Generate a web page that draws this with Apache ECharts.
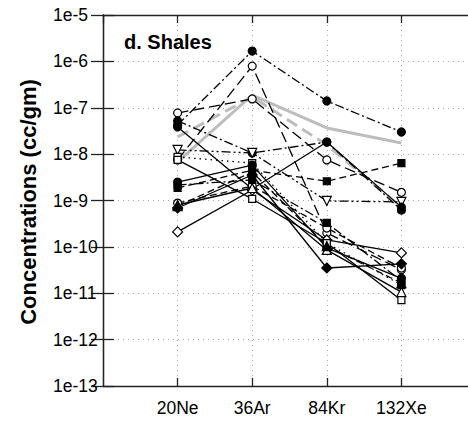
<!DOCTYPE html>
<html><head><meta charset="utf-8">
<script src="https://cdn.jsdelivr.net/npm/echarts@6/dist/echarts.min.js"></script>
<style>html,body{margin:0;padding:0;background:#fff}#c{width:468px;height:422px}</style>
</head><body><div id="c"></div><script>
// ---- data ----
const categories = ['20Ne', '36Ar', '84Kr', '132Xe'];
const yTickLabels = ['1e-13','1e-12','1e-11','1e-10','1e-9','1e-8','1e-7','1e-6','1e-5'];

const grayA = [6.8e-9, 1.88e-7, 3.66e-8, 1.74e-8];
const grayB = [2.34e-8, 1.71e-7, 1.57e-8, 7.2e-10];
const s1  = [4.25e-8, 1.67e-6, 1.40e-7, 3.0e-8];
const s2  = [7.5e-9, 7.9e-7, 2.0e-10, 3.2e-11];
const s3  = [7.7e-8, 1.55e-7, 7.5e-9, 1.5e-9];
const s4  = [5.2e-8, 1.06e-8, 1.82e-8, 6.2e-10];
const s5  = [1.23e-8, 1.06e-8, 9.8e-10, 9.3e-10];
const s6  = [1.86e-9, 4.5e-9, 2.6e-9, 6.4e-9];
const s7  = [8.7e-9, 6.4e-9, 1.21e-10, 1.5e-11];
const s8  = [2.5e-9, 5.8e-9, 9.5e-11, 2.1e-11];
const s9  = [3.85e-8, 1.77e-9, 1.82e-8, 7.2e-10];
const s10 = [8.8e-10, 2.05e-9, 2.55e-10, 3.5e-11];
const s11 = [6.9e-10, 3.55e-9, 3.5e-11, 4.3e-11];
const s12 = [2.1e-10, 1.68e-9, 1.41e-10, 7.4e-11];
const s13 = [2.16e-9, 2.77e-9, 3.3e-10, 1.84e-11];
const s14 = [8.0e-10, 1.86e-9, 8.6e-11, 1.06e-11];
const s15 = [7.5e-9, 1.08e-9, 1.21e-10, 7.1e-12];
const s16 = [7.6e-10, 4.1e-9, 1.04e-10, 1.66e-11];

// ---- styles (kept separate from data) ----
const DASH = {
  solid: 'solid', dashed: [7, 4], longdash: [11, 5], dashdot: [9, 3, 2, 3],
  dashdotdot: [9, 3, 2, 3, 2, 3], dotted: [1.5, 4]
};
const blackSeries = [
  [s1, 'circle', true, 'dashdot'],
  [s2, 'circle', false, 'longdash'],
  [s3, 'circle', false, 'longdash'],
  [s4, 'circle', true, 'dashdot'],
  [s5, 'down', false, 'dashdotdot'],
  [s6, 'rect', true, 'dashed'],
  [s7, 'rect', false, 'dotted'],
  [s8, 'circle', true, 'solid'],
  [s9, 'circle', true, 'solid'],
  [s10, 'circle', false, 'dashed'],
  [s11, 'diamond', true, 'solid'],
  [s12, 'diamond', false, 'solid'],
  [s13, 'rect', true, 'dashdot'],
  [s14, 'triangle', false, 'solid'],
  [s15, 'rect', false, 'solid'],
  [s16, 'triangle', true, 'dashed']
];
const SIZE = {circle: 8, rect: 7, triangle: 9, down: 9, diamond: 10};

const toPts = arr => arr.map((v, i) => [i + 1, v]);

const series = [];
series.push({type: 'line', data: toPts(grayA), symbol: 'none', lineStyle: {color: '#bdbdbd', width: 3}, z: 1, silent: true, animation: false});
series.push({type: 'line', data: toPts(grayB), symbol: 'none', lineStyle: {color: '#bdbdbd', width: 3, type: [12, 6]}, z: 1, silent: true, animation: false});
blackSeries.forEach(([vals, sym, filled, dash]) => {
  series.push({
    type: 'line', data: toPts(vals),
    symbol: sym === 'down' ? 'triangle' : sym,
    symbolRotate: sym === 'down' ? 180 : 0,
    symbolSize: SIZE[sym],
    showAllSymbol: true,
    lineStyle: {color: '#000', width: 1.3, type: DASH[dash]},
    itemStyle: {color: filled ? '#000' : '#fff', borderColor: '#000', borderWidth: 1.2, opacity: 1},
    z: 2, animation: false, silent: true
  });
});

const FONT = 'Liberation Sans, Arial, Helvetica, sans-serif';
const chart = echarts.init(document.getElementById('c'), null, {renderer: 'svg'});
chart.setOption({
  backgroundColor: '#fff',
  animation: false,
  title: {
    text: 'd. Shales', left: 124, top: 32, padding: 0,
    textStyle: {fontFamily: FONT, fontSize: 20, fontWeight: 'bold', color: '#000'}
  },
  grid: {left: 103, top: 15, width: 373, height: 371, containLabel: false, outerBoundsMode: 'none'},
  graphic: [{
    type: 'text', x: 28, y: 202, rotation: Math.PI / 2,
    style: {text: 'Concentrations (cc/gm)', fontFamily: FONT, fontSize: 22, fontWeight: 'bold',
            fill: '#000', textAlign: 'center', textVerticalAlign: 'middle'}
  }],
  xAxis: [{
    type: 'value', min: 0, max: 5, interval: 1, position: 'bottom',
    axisLine: {show: true, lineStyle: {color: '#222', width: 1.3}},
    axisTick: {show: true, inside: true, length: 8, lineStyle: {color: '#222', width: 1.3}},
    axisLabel: {
      show: true, margin: 13, fontFamily: FONT, fontSize: 17.5, color: '#000',
      showMinLabel: false, showMaxLabel: false,
      formatter: v => (Number.isInteger(v) && v >= 1 && v <= 4) ? categories[v - 1] : ''
    },
    splitLine: {show: true, lineStyle: {color: '#aaa', type: [1, 4], width: 1}}
  }, {
    type: 'value', min: 0, max: 5, interval: 1, position: 'top',
    axisLine: {show: true, lineStyle: {color: '#222', width: 1.3}},
    axisTick: {show: true, inside: true, length: 8, lineStyle: {color: '#222', width: 1.3}},
    axisLabel: {show: false}, splitLine: {show: false}
  }],
  yAxis: [{
    type: 'log', logBase: 10, min: 1e-13, max: 1e-5, position: 'left',
    axisLine: {show: true, lineStyle: {color: '#222', width: 1.3}},
    axisTick: {show: true, inside: true, length: 11, lineStyle: {color: '#222', width: 1.3}},
    minorTick: {show: false},
    axisLabel: {
      show: true, margin: 50, align: 'left', fontFamily: FONT, fontSize: 17.5, color: '#000',
      formatter: v => yTickLabels[Math.round(Math.log10(v)) + 13]
    },
    splitLine: {show: true, lineStyle: {color: '#aaa', type: [1, 4], width: 1}}
  }, {
    type: 'log', logBase: 10, min: 1e-13, max: 1e-5, position: 'right',
    axisLine: {show: true, lineStyle: {color: '#222', width: 1.3}},
    axisTick: {show: true, inside: true, length: 12, lineStyle: {color: '#222', width: 1.3}},
    axisLabel: {show: false}, splitLine: {show: false}
  }],
  series: series
});
</script></body></html>
